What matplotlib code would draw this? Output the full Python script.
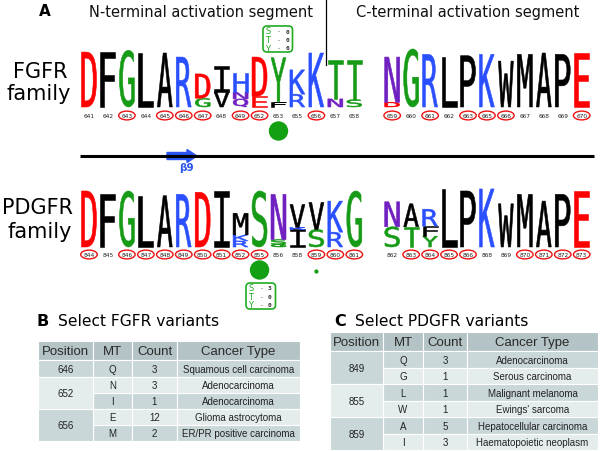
import matplotlib
matplotlib.use("Agg")
import matplotlib.pyplot as plt
from matplotlib.textpath import TextPath
from matplotlib.font_manager import FontProperties
from matplotlib.patches import PathPatch, Ellipse, Circle, Rectangle, FancyBboxPatch, FancyArrow
import matplotlib.transforms as mtransforms

# ---------------- data ----------------
fgfr_positions = [641, 642, 643, 644, 645, 646, 647, 648, 649, 652, 653, 655, 656, 657, 658,
                  None, 659, 660, 661, 662, 663, 665, 666, 667, 668, 669, 670]
fgfr_letters = ["D", "F", "G", "L", "A", "R", "GD", "VI", "QNH", "ED", "FY", "RK", "K", "NT", "ST",
                "", "DN", "G", "R", "L", "P", "K", "W", "M", "A", "P", "E"]
fgfr_heights = [[4.07], [4.07], [4.2], [4.0], [4.0], [3.7], [0.65, 1.8], [1.1, 1.95], [0.6, 0.5, 1.4],
                [0.8, 2.9], [0.4, 3.25], [0.95, 1.8], [4.0], [0.6, 2.9], [0.55, 2.95],
                [], [0.35, 3.35], [4.3], [3.9], [3.7], [3.8], [3.9], [3.4], [3.9], [4.0], [3.9], [4.0]]
fgfr_circled = [643, 645, 646, 647, 649, 652, 656, 659, 661, 663, 665, 666, 670]

pdgfr_positions = [844, 845, 846, 847, 848, 849, 850, 851, 852, 855, 856, 858, 859, 860, 861,
                   None, 862, 863, 864, 865, 866, 868, 869, 870, 871, 872, 873]
pdgfr_letters = ["D", "F", "G", "L", "A", "R", "D", "I", "RKM", "S", "GSN", "IKV", "SV", "RK", "G",
                 "", "SN", "TA", "YFR", "L", "P", "K", "W", "M", "A", "P", "E"]
pdgfr_heights = [[4.15], [3.9], [4.15], [3.8], [3.8], [3.9], [4.05], [4.15], [0.45, 0.45, 1.6], [4.15],
                 [0.2, 0.35, 3.35], [1.3, 0.15, 1.7], [1.3, 2.0], [1.1, 2.3], [4.15],
                 [], [1.5, 1.85], [1.5, 1.7], [0.8, 0.75, 1.25], [4.3], [4.15], [4.3], [3.2], [3.9],
                 [3.4], [3.9], [4.15]]
pdgfr_circled = [844, 846, 847, 848, 849, 850, 851, 852, 855, 859, 860, 861, 863, 864, 865, 866,
                 870, 871, 872, 873]

fgfr_sites = [653]
fgfr_site_sizes = [9.0]
pdgfr_sites = [855, 859]
pdgfr_site_sizes = [9.0, 1.4]

fgfr_sty = [("S", 0), ("T", 0), ("Y", 6)]
pdgfr_sty = [("S", 3), ("T", 0), ("Y", 0)]

b_pos_labels = ["646", "652", "656"]
b_pos_spans = [1, 2, 2]
b_mt = ["Q", "N", "I", "E", "M"]
b_count = [3, 3, 1, 12, 2]
b_cancer = ["Squamous cell carcinoma", "Adenocarcinoma", "Adenocarcinoma",
            "Glioma astrocytoma", "ER/PR positive carcinoma"]

c_pos_labels = ["849", "855", "859"]
c_pos_spans = [2, 2, 2]
c_mt = ["Q", "G", "L", "W", "A", "I"]
c_count = [3, 1, 1, 1, 5, 3]
c_cancer = ["Adenocarcinoma", "Serous carcinoma", "Malignant melanoma", "Ewings' sarcoma",
            "Hepatocellular carcinoma", "Haematopoietic neoplasm"]
table_header = ["Position", "MT", "Count", "Cancer Type"]

# ---------------- style ----------------
RED, BLACK, GREEN, BLUE, PURPLE = "#ff0000", "#000000", "#169b16", "#2a4fff", "#7020c0"
aa_color = {"D": RED, "E": RED, "G": GREEN, "S": GREEN, "T": GREEN, "Y": GREEN, "C": GREEN,
            "R": BLUE, "K": BLUE, "H": BLUE, "N": PURPLE, "Q": PURPLE}

fig = plt.figure(figsize=(6, 4.52), dpi=100)
ax = fig.add_axes([0, 0, 1, 1])
ax.set_xlim(0, 600)
ax.set_ylim(452, 0)
ax.axis("off")

fp = FontProperties(family="DejaVu Sans Mono", weight="normal")
X0, DX, LW_ = 89.0, 18.95, 15.0
PX_PER_BIT = 13.5


def draw_letter(ch, xc, w, ybot, ytop, color):
    tp = TextPath((0, 0), ch, size=1, prop=fp)
    ext = tp.get_extents()
    sx = w / ext.width
    sy = (ybot - ytop) / ext.height
    tr = (mtransforms.Affine2D().translate(-ext.x0, -ext.y0)
          .scale(sx, -sy).translate(xc - w / 2, ybot))
    path = tr.transform_path(tp)
    ax.add_patch(PathPatch(path, facecolor=color, edgecolor=color, lw=0.4))


def draw_logo(positions, letters, heights, circled, baseline, label_y):
    for i, (pos, lets, hs) in enumerate(zip(positions, letters, heights)):
        if pos is None:
            continue
        xc = X0 + i * DX
        y = baseline
        for ch, h in zip(lets, hs):
            top = y - h * PX_PER_BIT
            draw_letter(ch, xc, LW_, y, top, aa_color.get(ch, BLACK))
            y = top
        ax.text(xc, label_y, str(pos), ha="center", va="center", fontsize=4.2, color="#222222")
        if pos in circled:
            ax.add_patch(Ellipse((xc, label_y), 16.5, 8.8, fill=False, edgecolor="#ee1111", lw=1.0))


def col_x(positions, p):
    return X0 + positions.index(p) * DX


draw_logo(fgfr_positions, fgfr_letters, fgfr_heights, fgfr_circled, 108, 116.5)
draw_logo(pdgfr_positions, pdgfr_letters, pdgfr_heights, pdgfr_circled, 248, 255.5)

for p, r in zip(fgfr_sites, fgfr_site_sizes):
    ax.add_patch(Circle((col_x(fgfr_positions, p), 132), r, color="#13a013"))
for p, r in zip(pdgfr_sites, pdgfr_site_sizes):
    ax.add_patch(Circle((col_x(pdgfr_positions, p), 271 if r > 3 else 272.5), r, color="#13a013"))


def sty_box(x, y, w, h, entries):
    ax.add_patch(FancyBboxPatch((x, y), w, h, boxstyle="round,pad=0,rounding_size=4",
                                fill=False, edgecolor="#22aa22", lw=1.2))
    for k, (res, n) in enumerate(entries):
        yy = y + 5 + k * 8.5
        ax.text(x + 5, yy, res, ha="center", va="center", fontsize=6, color="#22aa22",
                family="DejaVu Sans")
        ax.text(x + 16, yy, "-", ha="center", va="center", fontsize=4.5, color="#333333",
                family="DejaVu Sans Mono")
        ax.text(x + 24, yy, str(n), ha="center", va="center", fontsize=4.5, color="#333333",
                family="DejaVu Sans Mono", weight="bold")


sty_box(263, 27, 29.5, 26, fgfr_sty)
sty_box(246, 284, 29.5, 26, pdgfr_sty)

# headings
ax.text(45, 12, "A", ha="center", va="center", fontsize=11, weight="bold")
ax.text(201, 12, "N-terminal activation segment", ha="center", va="center", fontsize=10.5,
        color="#111111")
ax.text(468, 12, "C-terminal activation segment", ha="center", va="center", fontsize=10.5,
        color="#111111")
ax.plot([326, 326], [0, 66], color="black", lw=0.9)

ax.text(40, 78, "FGFR", ha="center", va="baseline", fontsize=15)
ax.text(39, 100, "family", ha="center", va="baseline", fontsize=15)
ax.text(38, 214, "PDGFR", ha="center", va="baseline", fontsize=15)
ax.text(40, 238, "family", ha="center", va="baseline", fontsize=15)

# secondary structure line
ax.plot([80, 594], [157, 157], color="black", lw=2.2, solid_capstyle="butt")
ax.add_patch(FancyArrow(167, 157, 30, 0, width=7, head_width=13, head_length=10,
                        length_includes_head=True, color="#2a55ee"))
ax.text(186, 168, "β9", ha="center", va="center", fontsize=7.5, color="#2a55ee", weight="bold")

# tables
HEAD_C, DARK_C, LIGHT_C = "#b3c3c6", "#c9d7d9", "#e5ecec"


def draw_table(xs, ys, pos_labels, spans, mts, counts, cancers):
    # header
    for j in range(4):
        ax.add_patch(Rectangle((xs[j], ys[0]), xs[j + 1] - xs[j], ys[1] - ys[0],
                               facecolor=HEAD_C, edgecolor="white", lw=0.8))
        ax.text((xs[j] + xs[j + 1]) / 2, (ys[0] + ys[1]) / 2 + 0.5, table_header[j],
                ha="center", va="center", fontsize=9.5, family="Liberation Sans", color="#2a2a2a")
    # body rows
    for r in range(len(mts)):
        c = DARK_C if r % 2 == 0 else LIGHT_C
        yt, yb = ys[r + 1], ys[r + 2]
        vals = [mts[r], str(counts[r]), cancers[r]]
        for j in range(1, 4):
            ax.add_patch(Rectangle((xs[j], yt), xs[j + 1] - xs[j], yb - yt,
                                   facecolor=c, edgecolor="white", lw=0.8))
            ax.text((xs[j] + xs[j + 1]) / 2, (yt + yb) / 2 + 0.3, vals[j - 1], ha="center",
                    va="center", fontsize=7, family="Liberation Sans", color="#222222")
    # merged position cells
    r = 0
    for k, (lab, sp) in enumerate(zip(pos_labels, spans)):
        c = DARK_C if k % 2 == 0 else LIGHT_C
        yt, yb = ys[r + 1], ys[r + 1 + sp]
        ax.add_patch(Rectangle((xs[0], yt), xs[1] - xs[0], yb - yt,
                               facecolor=c, edgecolor="white", lw=0.8))
        ax.text((xs[0] + xs[1]) / 2, (yt + yb) / 2 + 0.3, lab, ha="center", va="center",
                fontsize=7, family="Liberation Sans", color="#222222")
        r += sp


ax.text(43, 326, "B", ha="center", va="baseline", fontsize=11.5, weight="bold")
ax.text(58, 326, "Select FGFR variants", ha="left", va="baseline", fontsize=11.2)
draw_table([38, 93, 132, 177, 300], [342, 361, 377.5, 393.5, 409.5, 425.5, 442],
           b_pos_labels, b_pos_spans, b_mt, b_count, b_cancer)

ax.text(340, 326, "C", ha="center", va="baseline", fontsize=11.5, weight="bold")
ax.text(355, 326, "Select PDGFR variants", ha="left", va="baseline", fontsize=11.2)
draw_table([330, 383, 423, 467, 598], [333, 352, 368.5, 385, 401.5, 418, 434.5, 451],
           c_pos_labels, c_pos_spans, c_mt, c_count, c_cancer)

fig.savefig("out.png", dpi=100)
